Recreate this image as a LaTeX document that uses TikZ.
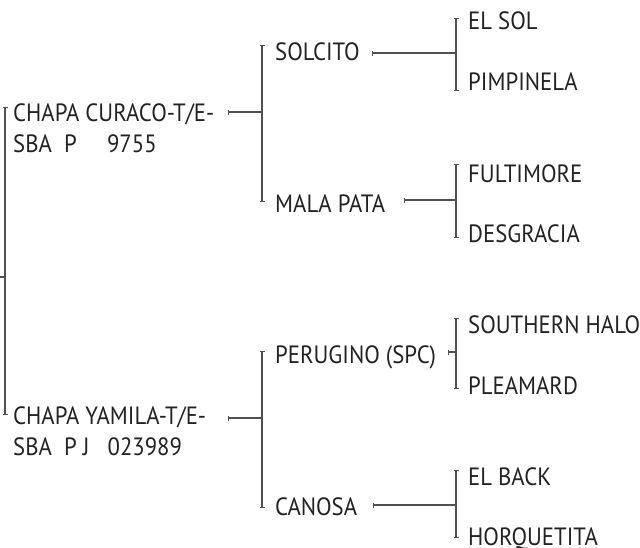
\documentclass[tikz,border=0pt]{standalone}
\usepackage{fontspec}
\setmainfont[FakeStretch=0.91]{PT Sans}
\usetikzlibrary{arrows.meta}
\definecolor{txt}{HTML}{222222}
\definecolor{ln}{HTML}{505050}
\tikzset{
  horse/.style={anchor=base west, inner sep=0pt, text=txt, font=\fontsize{25}{30.5}\selectfont, align=left},
  brk/.style={draw=ln, line width=1.1pt, {Bar[width=5pt,line width=1pt]}-{Bar[width=5pt,line width=1pt]}},
  con/.style={draw=ln, line width=1.1pt, {Bar[width=5pt,line width=1pt]}-},
  plain/.style={draw=ln, line width=1.1pt}
}
\begin{document}
\begin{tikzpicture}[x=1pt,y=-1pt]
\useasboundingbox (0,0) rectangle (640,547);
% names (base anchor of a two-line node is its last line)
\node[horse] (curaco) at (13,152) {CHAPA CURACO-T/E-\\SBA\ \ P\ \ \ \ \ 9755};
\node[horse] (yamila) at (13,455) {CHAPA YAMILA-T/E-\\SBA\ \ P J\ \ \ 023989};
\node[horse] (solcito) at (275,60) {SOLCITO};
\node[horse] (mala) at (275,212) {MALA PATA};
\node[horse] (perugino) at (275,363) {PERUGINO (SPC)};
\node[horse] (canosa) at (275,515) {CANOSA};
\node[horse] (elsol) at (468,29) {EL SOL};
\node[horse] (pimpinela) at (468,90) {PIMPINELA};
\node[horse] (fultimore) at (468,182) {FULTIMORE};
\node[horse] (desgracia) at (468,242) {DESGRACIA};
\node[horse] (southern) at (468,333) {SOUTHERN HALO};
\node[horse] (pleamard) at (468,394) {PLEAMARD};
\node[horse] (elback) at (468,485) {EL BACK};
\node[horse] (horquetita) at (468,545) {HORQUETITA};
% bracket coordinates
\coordinate (b0t) at (5,107); \coordinate (b0b) at (5,415);
\coordinate (root) at (0,277); \coordinate (b0m) at (5,277);
\coordinate (b1at) at (262,45); \coordinate (b1ab) at (262,202);
\coordinate (c1a) at (228,112); \coordinate (b1am) at (262,112);
\coordinate (b1bt) at (262,351); \coordinate (b1bb) at (262,508);
\coordinate (c1b) at (228,418); \coordinate (b1bm) at (262,418);
\coordinate (b2at) at (456,18); \coordinate (b2ab) at (456,91);
\coordinate (c2a) at (372,53); \coordinate (b2am) at (456,53);
\coordinate (b2bt) at (456,164); \coordinate (b2bb) at (456,238);
\coordinate (c2b) at (404,200); \coordinate (b2bm) at (456,200);
\coordinate (b2ct) at (456,318); \coordinate (b2cb) at (456,389);
\coordinate (c2c) at (448,352); \coordinate (b2cm) at (456,352);
\coordinate (b2dt) at (456,470); \coordinate (b2db) at (456,538);
\coordinate (c2d) at (373,505); \coordinate (b2dm) at (456,505);
% brackets
\draw[brk] (b0t) -- (b0b);
\draw[plain] (root) -- (b0m);
\draw[brk] (b1at) -- (b1ab);
\draw[con] (c1a) -- (b1am);
\draw[brk] (b1bt) -- (b1bb);
\draw[con] (c1b) -- (b1bm);
\draw[brk] (b2at) -- (b2ab);
\draw[con] (c2a) -- (b2am);
\draw[brk] (b2bt) -- (b2bb);
\draw[con] (c2b) -- (b2bm);
\draw[brk] (b2ct) -- (b2cb);
\draw[con] (c2c) -- (b2cm);
\draw[brk] (b2dt) -- (b2db);
\draw[con] (c2d) -- (b2dm);
\end{tikzpicture}
\end{document}
